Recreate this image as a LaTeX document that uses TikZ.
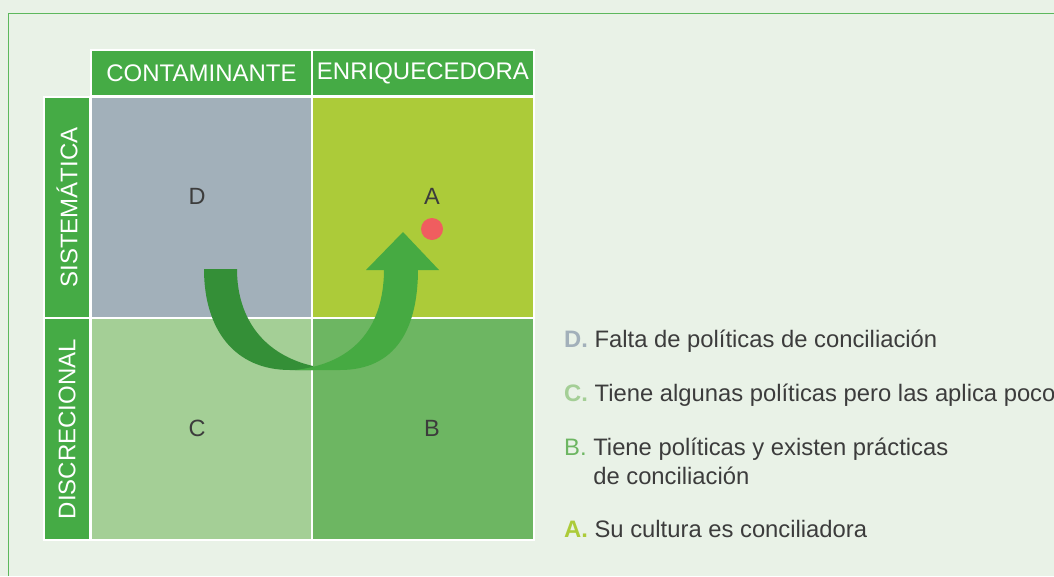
\documentclass[tikz,border=0pt]{standalone}
\usepackage{fontspec}
\setmainfont{Liberation Sans}
\usepackage{tikz}
\usetikzlibrary{positioning}

\definecolor{bg}{HTML}{E9F2E7}
\definecolor{frame}{HTML}{5DB85D}
\definecolor{hgreen}{HTML}{45AB45}
\definecolor{cD}{HTML}{A2B0BA}
\definecolor{cA}{HTML}{ACCB39}
\definecolor{cC}{HTML}{A4CF96}
\definecolor{cB}{HTML}{6DB662}
\definecolor{adark}{HTML}{348F37}
\definecolor{alight}{HTML}{46AA42}
\definecolor{dotred}{HTML}{F05D5F}
\definecolor{txt}{HTML}{3C3C3C}

\newcommand\bigtxt{\fontsize{24}{28.6}\selectfont}

\tikzset{
  cell/.style={draw=white, line width=2pt, minimum width=221pt, minimum height=221pt, inner sep=0pt},
  head/.style={draw=white, line width=2pt, fill=hgreen, text=white, font=\bigtxt, inner sep=0pt},
  letter/.style={text=txt, font=\fontsize{23.5}{27}\selectfont, inner sep=0pt},
  legend/.style={anchor=base west, align=left, text=txt, font=\fontsize{23.8}{28.6}\selectfont, inner sep=0pt}
}

\begin{document}
\begin{tikzpicture}[x=1pt, y=-1pt]
\fill[bg] (0,0) rectangle (1054,576);
\useasboundingbox (0,0) rectangle (1054,576);
\draw[frame, line width=1.2pt] (1054,13.5) -- (8.5,13.5) -- (8.5,576);

\node[head, minimum width=221pt, minimum height=46pt] (h1) at (201.5,73) {CONTAMINANTE};
\node[head, minimum width=222pt, minimum height=46pt] (h2) at (423,73) {ENRIQUECEDORA};

\node[head, rotate=90, minimum width=221pt, minimum height=46pt] (r1) at (67,207.5) {SISTEMÁTICA};
\node[head, rotate=90, minimum width=222pt, minimum height=46pt] (r2) at (67,429) {DISCRECIONAL};

\node[cell, fill=cD] (d) at (201.5,207.5) {};
\node[cell, fill=cA, minimum width=222pt] (a) at (423,207.5) {};
\node[cell, fill=cC, minimum height=222pt] (c) at (201.5,429) {};
\node[cell, fill=cB, minimum width=222pt, minimum height=222pt] (b) at (423,429) {};

\node[letter] (dl) at (197,196) {D};
\node[letter] (al) at (432,196) {A};
\node[letter] (cl) at (197,428) {C};
\node[letter] (bl) at (432,428) {B};

\node[circle, fill=dotred, minimum size=22pt, inner sep=0pt] (dot) at (432,229) {};

\fill[adark] (204,269) -- (237,269) .. controls (237,320) and (265,355) .. (313,366) -- (313,370) -- (290,370) .. controls (235,370) and (204,330) .. (204,269) -- cycle;
\fill[alight] (384,269) -- (418,269) .. controls (418,330) and (395,370) .. (340,370) -- (295,370) .. controls (365,362) and (384,315) .. (384,269) -- cycle;
\fill[alight] (366,270) -- (439,270) -- (403,232) -- cycle;

\node[legend] (ld) at (564,347.7) {{\bfseries\color{cD}D.} Falta de políticas de conciliación};
\node[legend] (lc) at (564,401) {{\bfseries\color{cC}C.} Tiene algunas políticas pero las aplica poco};
\node[legend] (lb) at (564,484.3) {{\color{cB}B.} Tiene políticas y existen prácticas\\\phantom{B.} de conciliación};
\node[legend] (la) at (564,537.7) {{\bfseries\color{cA}A.} Su cultura es conciliadora};

\end{tikzpicture}
\end{document}
